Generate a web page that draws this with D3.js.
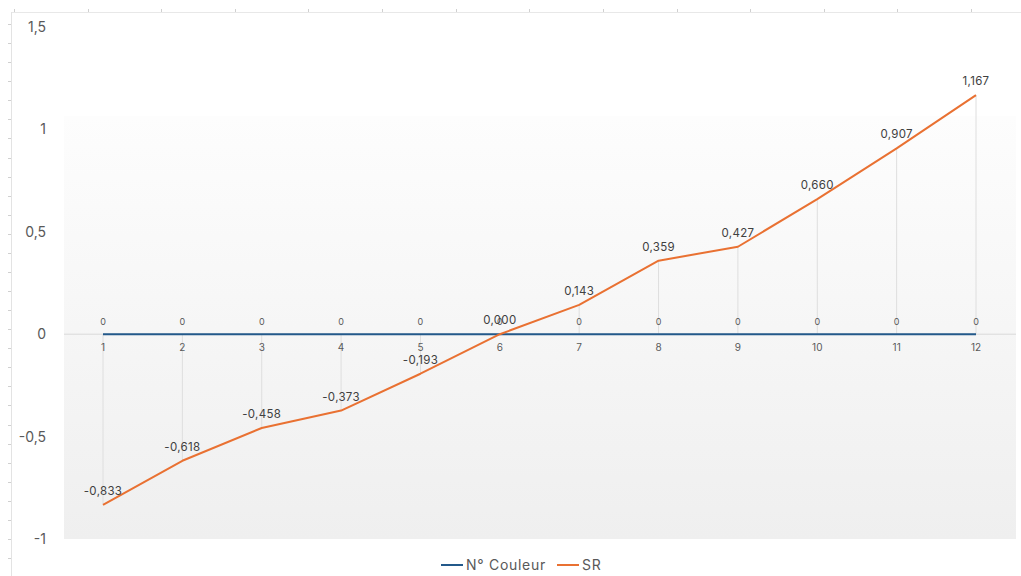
<!DOCTYPE html>
<html><head><meta charset="utf-8">
<script src="https://cdn.jsdelivr.net/npm/d3@7"></script>
<style>body{margin:0;background:#fff}svg{display:block}</style>
</head><body>
<script>
const categories = [1,2,3,4,5,6,7,8,9,10,11,12];
const couleurValues = [0,0,0,0,0,0,0,0,0,0,0,0];
const srValues = [-0.833,-0.618,-0.458,-0.373,-0.193,0.000,0.143,0.359,0.427,0.660,0.907,1.167];
const yTicks = [-1,-0.5,0,0.5,1,1.5];
const seriesNames = ["N° Couleur","SR"];

const W = 1021, H = 576;
const font = "Inter, 'Open Sans', sans-serif";
const svg = d3.select("body").append("svg").attr("width", W).attr("height", H);

const x = d3.scalePoint().domain(categories).range([103, 976]);
const y = d3.scaleLinear().domain([-1, 1.5]).range([539, 27]);
const fmt = v => d3.format(".3f")(v).replace(".", ",").replace("−","-");
const fmtTick = v => String(v).replace(".", ",");

// ruler-like frame
const frame = svg.append("g");
frame.append("line").attr("x1", 11.5).attr("x2", 11.5).attr("y1", 12).attr("y2", H).attr("stroke", "#e3e3e3");
frame.append("line").attr("x1", 12).attr("x2", W).attr("y1", 12.5).attr("y2", 12.5).attr("stroke", "#e8e8e8");
const rulerY = d3.scaleLinear().domain([0, 28]).range([24, 558]);
frame.selectAll(".rty").data(d3.range(0, 29)).join("line")
  .attr("x1", 8).attr("x2", 11).attr("y1", d => Math.round(rulerY(d)) + 0.5).attr("y2", d => Math.round(rulerY(d)) + 0.5)
  .attr("stroke", "#d0d0d0");
const rulerX = d3.scaleLinear().domain([0, 13]).range([14, 971]);
frame.selectAll(".rtx").data(d3.range(0, 14)).join("line")
  .attr("x1", d => Math.round(rulerX(d)) + 0.5).attr("x2", d => Math.round(rulerX(d)) + 0.5).attr("y1", 9).attr("y2", 12)
  .attr("stroke", "#d0d0d0");

// plot background gradient
const defs = svg.append("defs");
const grad = defs.append("linearGradient").attr("id", "bg").attr("x1", 0).attr("x2", 0).attr("y1", 0).attr("y2", 1);
grad.append("stop").attr("offset", "0%").attr("stop-color", "#fdfdfd");
grad.append("stop").attr("offset", "100%").attr("stop-color", "#efefef");
svg.append("rect").attr("x", 64).attr("y", 116).attr("width", 952).attr("height", y(-1) - 116).attr("fill", "url(#bg)");

// y tick labels
svg.append("g").selectAll("text").data(yTicks).join("text")
  .attr("x", 46).attr("y", d => y(d)).attr("dy", "0.35em").attr("text-anchor", "end")
  .attr("font-family", font).attr("font-size", 14).attr("fill", "#595959")
  .text(fmtTick);

// zero axis line
svg.append("line").attr("x1", 64).attr("x2", 1016).attr("y1", y(0)).attr("y2", y(0)).attr("stroke", "#d9d9d9");

// high-low lines
svg.append("g").selectAll("line").data(categories).join("line")
  .attr("x1", d => x(d)).attr("x2", d => x(d))
  .attr("y1", (d, i) => y(couleurValues[i])).attr("y2", (d, i) => y(srValues[i]))
  .attr("stroke", "#dedede").attr("stroke-width", 1);

// x axis labels
svg.append("g").selectAll("text").data(categories).join("text")
  .attr("x", d => x(d)).attr("y", y(0) + 13).attr("dy", "0.35em").attr("text-anchor", "middle")
  .attr("font-family", font).attr("font-size", 10).attr("fill", "#595959")
  .text(d => d);

const line = d3.line().x((d, i) => x(categories[i])).y(d => y(d));
const blue = "#23598a", orange = "#e97132";

svg.append("path").datum(couleurValues).attr("d", line).attr("fill", "none").attr("stroke", blue).attr("stroke-width", 2);
svg.append("path").datum(srValues).attr("d", line).attr("fill", "none").attr("stroke", orange).attr("stroke-width", 2).attr("stroke-linejoin", "round");

// labels for N° Couleur
svg.append("g").selectAll("text").data(couleurValues).join("text")
  .attr("x", (d, i) => x(categories[i])).attr("y", d => y(d) - 12).attr("dy", "0.35em").attr("text-anchor", "middle")
  .attr("font-family", font).attr("font-size", 9).attr("fill", "#595959")
  .text(d => d);

// labels for SR
svg.append("g").selectAll("text").data(srValues).join("text")
  .attr("x", (d, i) => x(categories[i])).attr("y", d => y(d) - 14).attr("dy", "0.35em").attr("text-anchor", "middle")
  .attr("font-family", font).attr("font-size", 11.5).attr("fill", "#404040").attr("letter-spacing", 0.3)
  .text(fmt);

// legend
const legend = svg.append("g");
const legItems = [{name: seriesNames[0], color: blue, x: 441}, {name: seriesNames[1], color: orange, x: 557}];
legItems.forEach(it => {
  legend.append("line").attr("x1", it.x).attr("x2", it.x + 22).attr("y1", 565).attr("y2", 565).attr("stroke", it.color).attr("stroke-width", 2);
  legend.append("text").attr("x", it.x + 25).attr("y", 565).attr("dy", "0.35em")
    .attr("font-family", font).attr("font-size", 14).attr("letter-spacing", 0.7).attr("fill", "#595959").text(it.name);
});
</script>
</body></html>
